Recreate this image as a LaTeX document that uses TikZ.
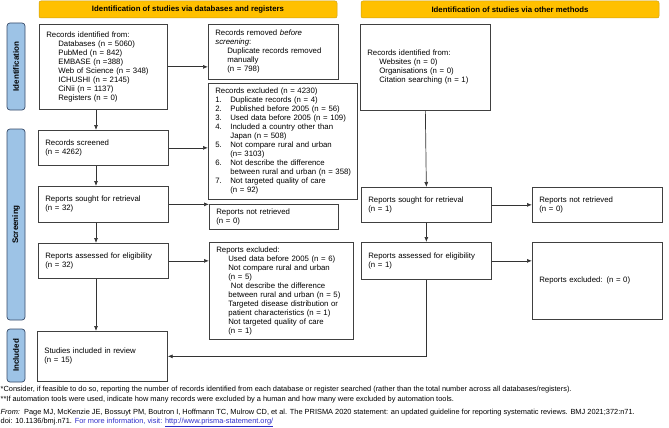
\documentclass[tikz,border=0pt]{standalone}
\usepackage{fontspec}
\setmainfont{Liberation Sans}
\usetikzlibrary{arrows.meta}
\definecolor{hdryellow}{RGB}{255,192,0}
\definecolor{hdredge}{RGB}{205,160,20}
\definecolor{sideblue}{RGB}{157,195,230}
\definecolor{sideedge}{RGB}{55,75,105}
\definecolor{linkblue}{RGB}{45,45,200}
% numbered entry and its continuation in the exclusion list
\newcommand{\exitem}[2]{\makebox[15pt][l]{#1}#2}
\newcommand{\excont}{\hspace*{15pt}}
\newcommand{\subind}{\hspace*{12pt}}

\begin{document}
\begin{tikzpicture}[x=1pt, y=-1pt,
		box/.style={draw=black!75, line width=0.7pt, anchor=north west, align=left,
			inner xsep=7pt, inner ysep=1pt, font=\fontsize{7.8}{9}\selectfont},
		header/.style={draw=hdredge, fill=hdryellow, rounded corners=2pt, line width=0.5pt,
			inner sep=0pt, minimum width=298pt, minimum height=17pt,
			font=\bfseries\fontsize{7.8}{9}\selectfont},
		side/.style={draw=sideedge, fill=sideblue, rounded corners=3pt, line width=0.7pt,
			rotate=90, inner sep=0pt, minimum height=18pt,
			font=\bfseries\fontsize{8}{9}\selectfont},
		foot/.style={anchor=base west, inner sep=0pt, font=\fontsize{7.4}{9}\selectfont},
		arr/.style={-{Latex[length=5pt, width=4pt]}, draw=black!80, line width=0.7pt}]
	\useasboundingbox (0,0) rectangle (669,428);
	
	% Headers
	\node[header] (hdb) at (188,9.5) {Identification of studies via databases and registers};
	\node[header] (hother) at (510,9.5) {Identification of studies via other methods};
	
	% Side labels
	\node[side, minimum width=87pt] (lident) at (16,66.5) {Identification};
	\node[side, minimum width=191pt] (lscreen) at (16,224.5) {Screening};
	\node[side, minimum width=53pt] (lincl) at (16,355.5) {Included};
	
	% Databases and registers
	\node[box, text width=114pt, minimum height=85pt] (ident) at (39,24) {Records identified from:\\
		\subind Databases (n = 5060)\\ \subind PubMed (n = 842)\\ \subind EMBASE (n =388)\\
		\subind Web of Science (n = 348)\\ \subind ICHUSHI (n = 2145)\\
		\subind CiNii (n = 1137)\\ \subind Registers (n = 0)};
	\node[box, text width=116pt, minimum height=55pt] (removed) at (208,24) {Records removed \textit{before}\\
		\textit{screening}:\\ \subind Duplicate records removed\\ \subind manually\\ \subind (n = 798)};
	\node[box, text width=139pt, inner xsep=5pt, minimum height=116pt] (excl) at (208,83) {\hspace*{2pt}Records excluded (n = 4230)\\
		\hspace*{2pt}\exitem{1.}{Duplicate records (n = 4)}\\
		\hspace*{2pt}\exitem{2.}{Published before 2005 (n = 56)}\\
		\hspace*{2pt}\exitem{3.}{Used data before 2005 (n = 109)}\\
		\hspace*{2pt}\exitem{4.}{Included a country other than}\\ \hspace*{2pt}\excont Japan (n = 508)\\
		\hspace*{2pt}\exitem{5.}{Not compare rural and urban}\\ \hspace*{2pt}\excont (n= 3103)\\
		\hspace*{2pt}\exitem{6.}{Not describe the difference}\\ \hspace*{2pt}\excont between rural and urban (n = 358)\\
		\hspace*{2pt}\exitem{7.}{Not targeted quality of care}\\ \hspace*{2pt}\excont (n = 92)};
	\node[box, text width=116pt, minimum height=35pt] (screened) at (38,130) {Records screened\\(n = 4262)};
	\node[box, text width=116pt, minimum height=36pt] (sought) at (38,186) {Reports sought for retrieval\\(n = 32)};
	\node[box, text width=115pt, minimum height=25pt] (notret) at (209,204) {Reports not retrieved\\(n = 0)};
	\node[box, text width=116pt, minimum height=35pt] (assessed) at (38,243) {Reports assessed for eligibility\\(n = 32)};
	\node[box, text width=130pt, minimum height=97pt] (repexcl) at (209,242) {Reports excluded:\\
		\subind Used data before 2005 (n = 6)\\ \subind Not compare rural and urban\\ \subind (n = 5)\\
		\subind\ Not describe the difference\\ \subind between rural and urban (n = 5)\\
		\subind Targeted disease distribution or\\ \subind patient characteristics (n = 1)\\
		\subind Not targeted quality of care\\ \subind (n = 1)};
	\node[box, text width=116pt, minimum height=50pt] (included) at (37,331) {Studies included in review\\(n = 15)};
	
	% Other methods
	\node[box, text width=116pt, minimum height=86pt] (otherid) at (360,24) {Records identified from:\\
		\subind Websites (n = 0)\\ \subind Organisations (n = 0)\\ \subind Citation searching (n = 1)};
	\node[box, text width=116pt, minimum height=35pt] (osought) at (361,187) {Reports sought for retrieval\\(n = 1)};
	\node[box, text width=116pt, minimum height=35pt] (onotret) at (532,187) {Reports not retrieved\\(n = 0)};
	\node[box, text width=116pt, minimum height=37pt] (oassessed) at (361,242) {Reports assessed for eligibility\\(n = 1)};
	\node[box, text width=116pt, minimum height=77pt] (orepexcl) at (532,242) {Reports excluded: (n = 0)};
	
	% Arrows
	\coordinate (lx) at (96,0);
	\draw[arr] (ident.south -| lx) -- (screened.north -| lx);
	\draw[arr] (screened.south -| lx) -- (sought.north -| lx);
	\draw[arr] (sought.south -| lx) -- (assessed.north -| lx);
	\draw[arr] (assessed.south -| lx) -- (included.north -| lx);
	\draw[arr] (ident.east) -- (ident.east -| removed.west);
	\draw[arr] (screened.east) -- (screened.east -| excl.west);
	\draw[arr] (sought.east) -- (sought.east -| notret.west);
	\draw[arr] (assessed.east) -- (assessed.east -| repexcl.west);
	\draw[arr] (otherid.south) -- (osought.north);
	\draw[arr] (osought.south) -- (oassessed.north);
	\draw[arr] (osought.east) -- (onotret.west);
	\draw[arr] (oassessed.east) -- (oassessed.east -| orepexcl.west);
	\draw[arr] (oassessed.south) |- (included.east);
	
	% Footnotes
	\node[foot] (note1) at (0.5,391) {*Consider, if feasible to do so, reporting the number of records identified from each database or register searched (rather than the total number across all databases/registers).};
	\node[foot] (note2) at (0.5,401) {**If automation tools were used, indicate how many records were excluded by a human and how many were excluded by automation tools.};
	\node[foot] (src1) at (0.5,414) {\textit{From:}\ \ Page MJ, McKenzie JE, Bossuyt PM, Boutron I, Hoffmann TC, Mulrow CD, et al. The PRISMA 2020 statement: an updated guideline for reporting systematic reviews. BMJ 2021;372:n71.};
	\node[foot] (src2) at (0.5,423.5) {doi: 10.1136/bmj.n71. \textcolor{linkblue}{For more information, visit: \underline{http://www.prisma-statement.org/}}};
\end{tikzpicture}
\end{document}
